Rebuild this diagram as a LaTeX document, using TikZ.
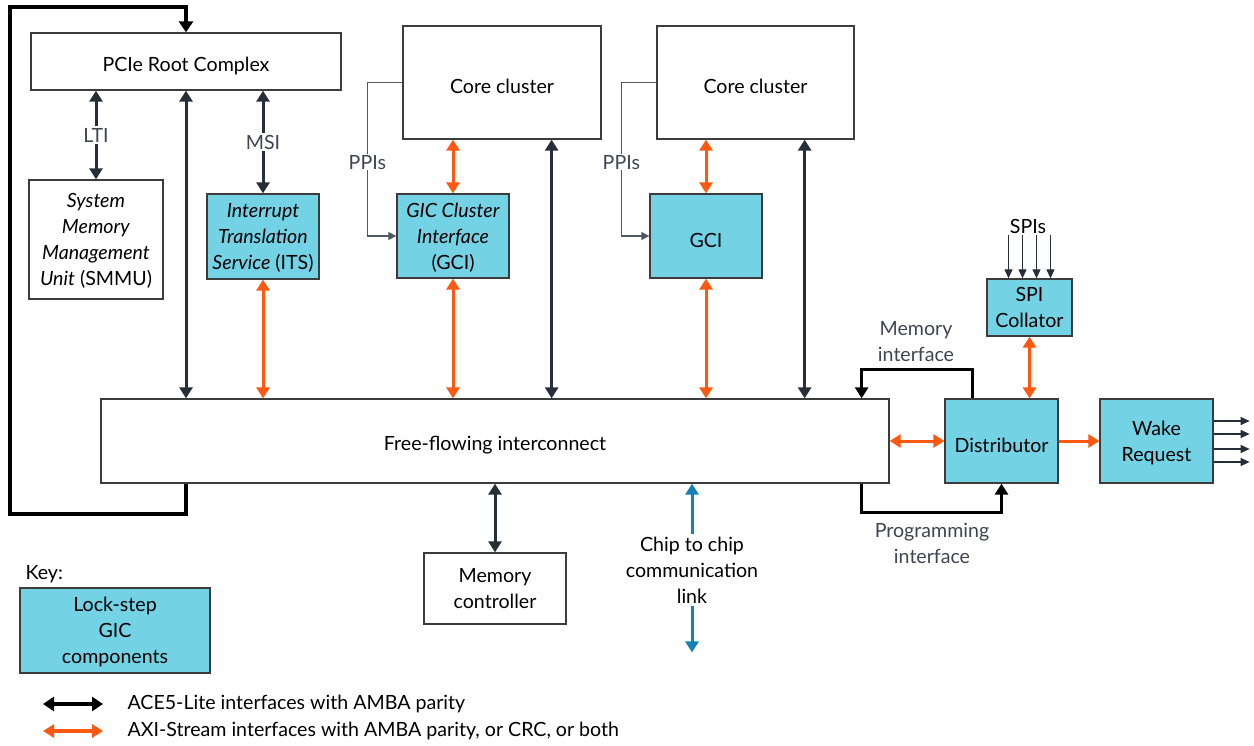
\documentclass[tikz,border=0pt]{standalone}
\usepackage{fontspec}
\setmainfont{Lato}
\usetikzlibrary{arrows.meta}
\definecolor{gicTeal}{RGB}{116,210,229}
\definecolor{busOrange}{RGB}{255,88,16}
\definecolor{darkSlate}{RGB}{38,46,56}
\definecolor{linkBlue}{RGB}{20,130,180}
\definecolor{labelGray}{RGB}{62,68,80}
\definecolor{edgeGray}{RGB}{60,60,60}

\tikzset{
  blk/.style={draw=edgeGray,line width=1.3pt,align=center,inner sep=0pt,execute at begin node={\rule{0pt}{23pt}}},
  gic/.style={blk,fill=gicTeal},
  stacked/.style={text depth=-10pt},
  dkarrow/.style={draw=darkSlate,line width=3pt,{Triangle[length=11pt,width=13pt]}-{Triangle[length=11pt,width=13pt]}},
  orarrow/.style={draw=busOrange,line width=3pt,{Triangle[length=11pt,width=13pt]}-{Triangle[length=11pt,width=13pt]}},
  orsingle/.style={draw=busOrange,line width=3pt,-{Triangle[length=11pt,width=13pt]}},
  bluearrow/.style={draw=linkBlue,line width=3pt,-{Triangle[length=11pt,width=13pt]}},
  ifline/.style={draw=black,line width=3.5pt,-{Triangle[length=11pt,width=13pt]}},
  loopline/.style={draw=black,line width=4pt,-{Triangle[length=11pt,width=14pt]}},
  ppiline/.style={draw=darkSlate!80,line width=1.1pt,-{Triangle[length=8pt,width=8pt]}},
  thinarrow/.style={draw=darkSlate,line width=1.1pt,-{Triangle[length=9pt,width=8pt]}},
  lbl/.style={text=labelGray,align=center,fill=white,inner sep=2pt}
}

\begin{document}
\begin{tikzpicture}[x=1pt,y=-1pt,font=\fontsize{19.6}{26}\selectfont]
\useasboundingbox (0,0) rectangle (1254,746);

% PCIe side
\node[blk,minimum width=310pt,minimum height=57pt] (pcie) at (186,61.5) {PCIe Root Complex};
\node[blk,stacked,minimum width=134pt,minimum height=119pt] (smmu) at (96,239.5) {\textit{System}\\\textit{Memory}\\\textit{Management}\\\textit{Unit} (SMMU)};
\node[gic,stacked,minimum width=112pt,minimum height=85pt] (its) at (263,236.5) {\textit{Interrupt}\\\textit{Translation}\\\textit{Service} (ITS)};

% Core clusters
\node[blk,minimum width=198pt,minimum height=113pt] (core1) at (502,82.5) {Core cluster};
\node[blk,minimum width=197pt,minimum height=113pt] (core2) at (755.5,82.5) {Core cluster};
\node[gic,stacked,minimum width=112pt,minimum height=84pt] (gci1) at (453,236) {\textit{GIC Cluster}\\\textit{Interface}\\(GCI)};
\node[gic,minimum width=112pt,minimum height=84pt] (gci2) at (706,236) {GCI};

% Interconnect and memory
\node[blk,minimum width=788pt,minimum height=84pt] (interc) at (495,441) {Free-flowing interconnect};
\node[blk,stacked,minimum width=142pt,minimum height=71pt] (memctl) at (495,588.5) {Memory\\controller};
\node[align=center,inner sep=3pt] (c2c) at (692,570) {Chip to chip\\communication\\link};

% Distributor side
\node[gic,stacked,minimum width=85pt,minimum height=57pt] (spic) at (1029.5,307.5) {SPI\\Collator};
\node[inner sep=2pt] (spis) at (1028,226) {SPIs};
\node[gic,minimum width=113pt,minimum height=84pt] (dist) at (1001.5,441) {Distributor};
\node[gic,stacked,minimum width=113pt,minimum height=84pt] (wake) at (1156.5,441) {Wake\\Request};

% Key
\node[anchor=west] (keyhd) at (22,574) {Key:};
\node[gic,stacked,minimum width=190pt,minimum height=85pt] (keybox) at (115,630.5) {Lock-step\\GIC\\components};
\node[anchor=west] (leg1) at (124,704) {ACE5-Lite interfaces with AMBA parity};
\node[anchor=west] (leg2) at (124,731) {AXI-Stream interfaces with AMBA parity, or CRC, or both};

% Connections
\draw[loopline] (pcie.south |- interc.south) -- ++(0,30) -- ++(-176,0) |- ([yshift=25pt]pcie.north) -- (pcie.north);
\draw[dkarrow] (pcie.south -| smmu.north) -- node[lbl]{LTI} (smmu.north);
\draw[dkarrow] (pcie.south -| its.north) -- node[lbl]{MSI} (its.north);
\draw[dkarrow] (pcie.south) -- (pcie.south |- interc.north);
\draw[orarrow] (its.south) -- (its.south |- interc.north);

\draw[orarrow] (core1.south -| gci1.north) -- (gci1.north);
\draw[orarrow] (core2.south -| gci2.north) -- (gci2.north);
\draw[orarrow] (gci1.south) -- (gci1.south |- interc.north);
\draw[orarrow] (gci2.south) -- (gci2.south |- interc.north);
\draw[dkarrow] ([xshift=-50pt]core1.south east) -- ([xshift=-50pt]core1.south east |- interc.north);
\draw[dkarrow] ([xshift=-50pt]core2.south east) -- ([xshift=-50pt]core2.south east |- interc.north);
\draw[ppiline] (core1.west) -- ++(-35,0) |- node[lbl,pos=0.26,inner sep=1pt]{PPIs} (gci1.west);
\draw[ppiline] (core2.west) -- ++(-35,0) |- node[lbl,pos=0.26,inner sep=1pt]{PPIs} (gci2.west);

\draw[dkarrow] (memctl.north) -- (memctl.north |- interc.south);
\draw[bluearrow] (c2c.north) -- (c2c.north |- interc.south);
\draw[bluearrow] (c2c.south) -- ++(0,46);

\draw[ifline] ([xshift=28pt]dist.north west) -- ++(0,-29) -| ([xshift=-28pt]interc.north east);
\draw[ifline] ([xshift=-28pt]interc.south east) -- ++(0,29) -| (dist.south);
\node[lbl,fill=none] (memif) at (916,342) {Memory\\interface};
\node[lbl,fill=none] (progif) at (932,543) {Programming\\interface};

\draw[orarrow] (interc.east) -- (dist.west);
\draw[orsingle] (dist.east) -- (wake.west);
\draw[orarrow] (spic.south) -- (spic.south |- dist.north);
\foreach \dx in {-21,-7,7,21}
  \draw[thinarrow] ([xshift=\dx pt]spic.north |- spis.south) -- ([xshift=\dx pt]spic.north);
\foreach \dy in {-20,-7,8,21}
  \draw[thinarrow] ([yshift=-\dy pt]wake.east) -- ++(36,0);

% Legend arrows
\draw[draw=black,line width=4pt,{Triangle[length=11pt,width=14pt]}-{Triangle[length=11pt,width=14pt]}] ([xshift=-81pt]leg1.west) -- ([xshift=-21pt]leg1.west);
\draw[orarrow,line width=4pt] ([xshift=-81pt]leg2.west) -- ([xshift=-21pt]leg2.west);
\end{tikzpicture}
\end{document}
